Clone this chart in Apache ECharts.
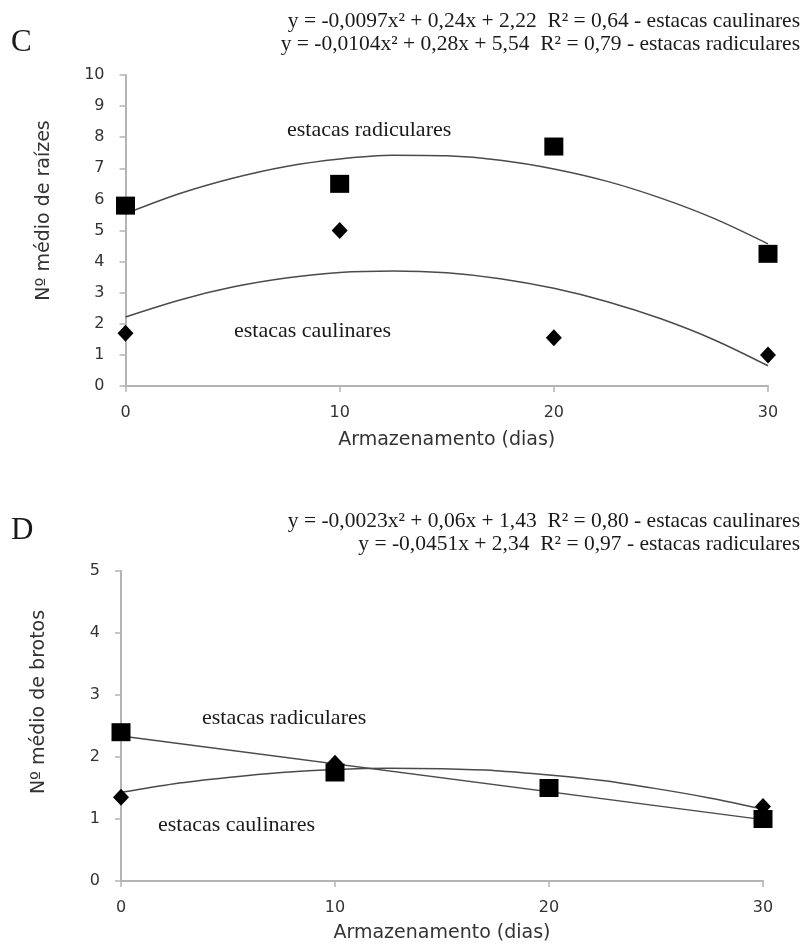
<!DOCTYPE html>
<html>
<head>
<meta charset="utf-8">
<script src="https://cdn.jsdelivr.net/npm/echarts@6/dist/echarts.min.js"></script>
<style>
html,body{margin:0;padding:0;background:#fff;}
#chart{width:805px;height:946px;}
</style>
</head>
<body>
<div id="chart"></div>
<script>
// ---- Data ----
var days = [0, 10, 20, 30];
var fitDays = [0, 2.5, 5, 7.5, 10, 12.5, 15, 17.5, 20, 22.5, 25, 27.5, 30];

// Panel C: Nº médio de raízes
var cRadiculares = [5.8, 6.5, 7.7, 4.25];
var cCaulinares = [1.7, 5.0, 1.55, 1.0];
var cRadicularesFit = [5.54, 6.18, 6.68, 7.06, 7.30, 7.42, 7.40, 7.26, 6.98, 6.58, 6.04, 5.38, 4.57];
var cCaulinaresFit = [2.22, 2.76, 3.18, 3.47, 3.65, 3.70, 3.64, 3.45, 3.14, 2.71, 2.16, 1.48, 0.65];

// Panel D: Nº médio de brotos
var dRadiculares = [2.4, 1.75, 1.5, 1.0];
var dCaulinares = [1.35, 1.9, 1.5, 1.2];
var dRadicularesFitDays = [0, 30];
var dRadicularesFit = [2.34, 0.99];
var dCaulinaresFit = [1.43, 1.57, 1.67, 1.75, 1.80, 1.82, 1.81, 1.78, 1.71, 1.62, 1.49, 1.34, 1.16];

var cYTicks = {min: 0, max: 10, interval: 1};
var dYTicks = {min: 0, max: 5, interval: 1};
var xTicks = {min: 0, max: 30, interval: 10};

var eqC1 = 'y = -0,0097x² + 0,24x + 2,22  R² = 0,64 - estacas caulinares';
var eqC2 = 'y = -0,0104x² + 0,28x + 5,54  R² = 0,79 - estacas radiculares';
var eqD1 = 'y = -0,0023x² + 0,06x + 1,43  R² = 0,80 - estacas caulinares';
var eqD2 = 'y = -0,0451x + 2,34  R² = 0,97 - estacas radiculares';

function pairs(xs, ys) { return xs.map(function (x, i) { return [x, ys[i]]; }); }

var sans = 'DejaVu Sans';
var axisGray = '#b4b4b4';
var lineGray = '#4a4a4a';

function xAxis(gi, gap) {
  return {
    type: 'value', gridIndex: gi, min: xTicks.min, max: xTicks.max, interval: xTicks.interval,
    name: 'Armazenamento (dias)', nameLocation: 'middle', nameGap: gap,
    nameTextStyle: {fontFamily: sans, fontSize: 19, color: '#333'},
    axisLine: {lineStyle: {color: axisGray, width: 2}},
    axisTick: {show: true, length: 6, lineStyle: {color: axisGray, width: 1.5}},
    axisLabel: {fontFamily: sans, fontSize: 16, color: '#333', margin: 19},
    splitLine: {show: false}
  };
}
function yAxis(gi, t, name, shift) {
  return {
    type: 'value', gridIndex: gi, min: t.min, max: t.max, interval: t.interval,
    name: name, nameLocation: 'middle', nameGap: 72, nameRotate: 90,
    nameTextStyle: {fontFamily: sans, fontSize: 19, color: '#333', padding: [0, 0, 0, shift]},
    axisLine: {show: true, lineStyle: {color: axisGray, width: 2}},
    axisTick: {show: true, length: 6, lineStyle: {color: axisGray, width: 1.5}},
    axisLabel: {fontFamily: sans, fontSize: 16, color: '#333', margin: 21},
    splitLine: {show: false}
  };
}
function fitLine(gi, xs, ys, smooth) {
  return {
    type: 'line', xAxisIndex: gi, yAxisIndex: gi, data: pairs(xs, ys), smooth: smooth,
    showSymbol: false, symbol: 'none', silent: true, z: 2,
    lineStyle: {color: lineGray, width: 1.5}
  };
}
function pts(gi, ys, symbol, size, z) {
  return {
    type: 'scatter', xAxisIndex: gi, yAxisIndex: gi, data: pairs(days, ys),
    symbol: symbol, symbolSize: size, z: z,
    itemStyle: {color: '#000', opacity: 1}
  };
}
function txt(x, y, s, size, align) {
  return {
    type: 'text', x: x, y: y,
    style: {text: s, font: size + 'px "Liberation Serif"', fill: '#1a1a1a',
      align: align || 'left', verticalAlign: 'middle',
      textAlign: align || 'left', textVerticalAlign: 'middle'}
  };
}

var chart = echarts.init(document.getElementById('chart'), null, {renderer: 'canvas'});
chart.setOption({
  animation: false,
  backgroundColor: '#fff',
  grid: [
    {left: 125.5, right: 37, top: 75, height: 311},
    {left: 121, right: 42, top: 571, height: 310}
  ],
  xAxis: [xAxis(0, 45), xAxis(1, 43)],
  yAxis: [yAxis(0, cYTicks, 'Nº médio de raízes', 40), yAxis(1, dYTicks, 'Nº médio de brotos', 48)],
  series: [
    fitLine(0, fitDays, cRadicularesFit, 0.3),
    fitLine(0, fitDays, cCaulinaresFit, 0.3),
    pts(0, cCaulinares, 'diamond', [16, 17], 3),
    pts(0, cRadiculares, 'rect', [19, 18], 4),
    fitLine(1, dRadicularesFitDays, dRadicularesFit, false),
    fitLine(1, fitDays, dCaulinaresFit, 0.3),
    pts(1, dCaulinares, 'diamond', [16, 17], 3),
    pts(1, dRadiculares, 'rect', [19, 18], 4)
  ],
  graphic: [
    txt(11, 43, 'C', 31),
    txt(800, 21, eqC1, 21.5, 'right'),
    txt(800, 44, eqC2, 21.5, 'right'),
    txt(287, 130, 'estacas radiculares', 22),
    txt(234, 331, 'estacas caulinares', 22),
    txt(11, 531, 'D', 31),
    txt(800, 521, eqD1, 21.5, 'right'),
    txt(800, 544, eqD2, 21.5, 'right'),
    txt(202, 718, 'estacas radiculares', 22),
    txt(158, 825, 'estacas caulinares', 22)
  ]
});
</script>
</body>
</html>
